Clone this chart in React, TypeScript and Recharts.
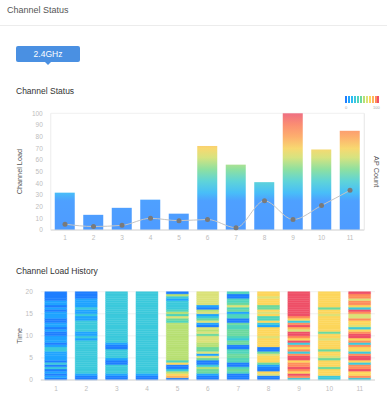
import React from 'react';
import { ComposedChart, BarChart, Bar, Line, XAxis, YAxis, CartesianGrid, Cell } from 'recharts';

const CHANNELS = ['1', '2', '3', '4', '5', '6', '7', '8', '9', '10', '11'];
const CHANNEL_LOAD = [32, 13, 19, 26, 14, 72, 56, 41, 100, 69, 85];
const AP_COUNT = [5, 3, 4, 10, 8, 9, 2, 25, 9, 21, 34];
const LOAD_TICKS = [0, 10, 20, 30, 40, 50, 60, 70, 80, 90, 100];
const LOAD_MAX = 100;
const TIME_TICKS = [0, 5, 10, 15, 20];
const TIME_MAX = 20;

// Channel load history samples, newest (time 20, top) first
const HISTORY_CH1 = [4, 4, 4, 4, 12, 12, 4, 12, 4, 12, 12, 12, 4, 4, 12, 12, 4, 12, 4, 4, 12, 12, 12, 4, 12, 29, 29, 12, 12, 12, 12, 4, 29, 4, 29, 4, 12, 4, 12, 4];
const HISTORY_CH2 = [4, 4, 4, 12, 12, 12, 12, 29, 12, 12, 29, 12, 12, 29, 29, 29, 29, 29, 12, 12, 29, 12, 29, 29, 29, 29, 29, 29, 29, 29, 29, 29, 29, 29, 29, 29, 29, 12, 4, 4];
const HISTORY_CH3 = [29, 29, 29, 29, 29, 29, 29, 29, 29, 29, 29, 29, 29, 29, 29, 29, 29, 29, 29, 29, 29, 29, 29, 12, 4, 4, 29, 29, 29, 29, 12, 4, 4, 29, 29, 29, 29, 12, 4, 4];
const HISTORY_CH4 = [29, 29, 29, 29, 29, 29, 29, 29, 29, 29, 29, 29, 29, 29, 29, 29, 29, 29, 29, 29, 29, 29, 29, 29, 29, 29, 29, 29, 29, 29, 29, 29, 29, 29, 29, 29, 29, 12, 4, 4];
const HISTORY_CH5 = [4, 54, 29, 12, 29, 29, 29, 29, 37, 54, 37, 62, 45, 37, 54, 54, 54, 54, 54, 54, 54, 54, 54, 54, 54, 54, 54, 54, 54, 54, 54, 37, 70, 4, 4, 29, 54, 70, 79, 4];
const HISTORY_CH6 = [62, 62, 62, 62, 62, 62, 12, 4, 54, 62, 12, 29, 45, 62, 12, 4, 62, 54, 62, 45, 62, 62, 62, 54, 54, 45, 45, 62, 12, 62, 45, 4, 4, 29, 54, 45, 45, 12, 4, 4];
const HISTORY_CH7 = [37, 4, 4, 37, 37, 45, 62, 37, 45, 12, 37, 37, 4, 4, 45, 37, 37, 45, 45, 45, 37, 29, 45, 45, 4, 4, 37, 37, 45, 45, 37, 37, 4, 4, 37, 45, 37, 4, 4, 4];
const HISTORY_CH8 = [70, 70, 62, 70, 70, 70, 45, 45, 70, 62, 70, 37, 37, 70, 29, 12, 70, 70, 70, 70, 62, 70, 70, 70, 70, 4, 4, 45, 62, 70, 70, 70, 45, 12, 4, 4, 70, 62, 4, 4];
const HISTORY_CH9 = [95, 95, 95, 95, 95, 95, 95, 95, 95, 95, 95, 87, 70, 29, 87, 95, 79, 62, 95, 95, 87, 70, 95, 29, 87, 70, 87, 29, 87, 95, 95, 70, 87, 87, 95, 87, 70, 95, 87, 29];
const HISTORY_CH10 = [70, 70, 70, 70, 70, 70, 70, 45, 70, 70, 62, 70, 70, 70, 70, 70, 70, 70, 45, 70, 70, 62, 70, 70, 70, 70, 45, 70, 70, 62, 45, 70, 70, 70, 45, 70, 70, 70, 29, 29];
const HISTORY_CH11 = [95, 87, 87, 62, 87, 87, 70, 29, 95, 87, 62, 62, 87, 70, 70, 62, 29, 70, 87, 95, 95, 70, 87, 29, 87, 70, 70, 29, 87, 95, 95, 70, 29, 87, 87, 95, 70, 70, 87, 29];

const PALETTE = ['#1f7fff', '#20a4ff', '#2bbcf5', '#3cc9dc', '#50d5bc', '#6cd99e', '#b8e074', '#dbe27a', '#fdd65c', '#ffb45c', '#ff8e5c', '#ef5068'];

const GRADIENT_STOPS = [
  { v: 0, c: '#4e9bff' },
  { v: 25, c: '#4ea0ff' },
  { v: 32, c: '#48bef8' },
  { v: 42, c: '#5fd4d8' },
  { v: 52, c: '#8ee0a0' },
  { v: 62, c: '#d6e380' },
  { v: 70, c: '#f8d870' },
  { v: 80, c: '#fdaf6e' },
  { v: 90, c: '#fb8f72' },
  { v: 100, c: '#ef6f82' },
];

const HISTORY = [
  HISTORY_CH1, HISTORY_CH2, HISTORY_CH3, HISTORY_CH4, HISTORY_CH5, HISTORY_CH6,
  HISTORY_CH7, HISTORY_CH8, HISTORY_CH9, HISTORY_CH10, HISTORY_CH11,
].map((h) => [...h].reverse());
const SAMPLES = HISTORY[0].length;
const STEP = TIME_MAX / SAMPLES;

const colorFor = (v: number) => PALETTE[Math.min(PALETTE.length - 1, Math.floor((v / LOAD_MAX) * PALETTE.length))];

const statusData = CHANNELS.map((ch, i) => ({ ch, load: CHANNEL_LOAD[i], ap: AP_COUNT[i] }));
const heatData = CHANNELS.map((ch) => {
  const row: any = { ch };
  for (let k = 0; k < SAMPLES; k++) row['t' + k] = STEP;
  return row;
});

const FONT = '"Liberation Sans", Arial, Helvetica, sans-serif';
const TICK = { fontSize: 6.5, fill: '#bdbdbd', fontFamily: FONT };

const GradientBar = (props: any) => {
  const { x, y, width, height, value, index } = props;
  const v = Array.isArray(value) ? value[1] - value[0] : value;
  if (!height || !v) return null;
  const bottom = y + height;
  const topMax = bottom - (height * LOAD_MAX) / v;
  const id = 'bar-grad-' + index;
  return (
    <g>
      <defs>
        <linearGradient id={id} gradientUnits="userSpaceOnUse" x1={0} y1={bottom} x2={0} y2={topMax}>
          {GRADIENT_STOPS.map((s) => (
            <stop key={s.v} offset={s.v / LOAD_MAX} stopColor={s.c} />
          ))}
        </linearGradient>
      </defs>
      <rect x={x} y={y} width={width} height={height} fill={`url(#${id})`} />
    </g>
  );
};

const AxisTitle = (props: any) => {
  const { viewBox, value, angle, dx } = props;
  if (!viewBox) return null;
  const cx = viewBox.x + dx;
  const cy = viewBox.y + viewBox.height / 2;
  return (
    <text
      x={cx}
      y={cy}
      transform={`rotate(${angle} ${cx} ${cy})`}
      textAnchor="middle"
      dominantBaseline="central"
      fontSize={7.3}
      fill="#555"
      fontFamily={FONT}
    >
      {value}
    </text>
  );
};

export default function App() {
  return (
    <div
      style={{
        position: 'absolute',
        left: 0,
        top: 0,
        width: 387,
        height: 398,
        background: '#fff',
        fontFamily: FONT,
        overflow: 'hidden',
      }}
    >
      <div style={{ position: 'absolute', left: 7, top: 4, fontSize: 9, lineHeight: '12px', color: '#555' }}>Channel Status</div>
      <div style={{ position: 'absolute', left: 0, top: 25, width: 387, height: 1, background: '#ececec' }} />
      <div
        style={{
          position: 'absolute',
          left: 16,
          top: 46,
          width: 64,
          height: 16,
          background: '#4a90e2',
          borderRadius: 2,
          color: '#fff',
          fontSize: 8.5,
          lineHeight: '16px',
          textAlign: 'center',
        }}
      >
        2.4GHz
      </div>
      <div
        style={{
          position: 'absolute',
          left: 45,
          top: 62,
          width: 0,
          height: 0,
          borderLeft: '3px solid transparent',
          borderRight: '3px solid transparent',
          borderTop: '3px solid #4a90e2',
        }}
      />
      <div style={{ position: 'absolute', left: 16, top: 85, fontSize: 8.5, lineHeight: '12px', color: '#333' }}>Channel Status</div>

      {PALETTE.map((c, i) => (
        <div key={c} style={{ position: 'absolute', left: 345 + i * 2.95, top: 96, width: 2, height: 7, background: c }} />
      ))}
      <div style={{ position: 'absolute', left: 345, top: 105, fontSize: 4, lineHeight: '5px', color: '#aaa' }}>0</div>
      <div style={{ position: 'absolute', left: 373, top: 105, fontSize: 4, lineHeight: '5px', color: '#aaa' }}>100</div>

      <div style={{ position: 'absolute', left: 0, top: 100 }}>
        <ComposedChart width={387} height={150} data={statusData} margin={{ top: 13.3, right: 0, bottom: 0, left: 0 }}>
          <CartesianGrid vertical={false} stroke="#f0f0f0" />
          <XAxis
            dataKey="ch"
            height={20}
            tick={TICK}
            tickLine={false}
            tickSize={3}
            tickMargin={2}
            axisLine={{ stroke: '#d6d6d6' }}
            interval={0}
          />
          <YAxis
            yAxisId="load"
            width={50.75}
            domain={[0, LOAD_MAX]}
            ticks={LOAD_TICKS}
            interval={0}
            tick={TICK}
            tickLine={false}
            axisLine={{ stroke: '#ececec' }}
            label={{ content: (p: any) => <AxisTitle {...p} value="Channel Load" angle={-90} dx={20} /> }}
          />
          <YAxis
            yAxisId="ap"
            orientation="right"
            width={22.75}
            domain={[0, LOAD_MAX]}
            tick={false}
            tickLine={false}
            axisLine={{ stroke: '#e6e6e6' }}
            label={{ content: (p: any) => <AxisTitle {...p} value="AP Count" angle={90} dx={12.5} /> }}
          />
          <Bar yAxisId="load" dataKey="load" barSize={20} shape={<GradientBar />} isAnimationActive={false} />
          <Line
            yAxisId="ap"
            dataKey="ap"
            type="monotone"
            stroke="#c4c4c4"
            strokeWidth={1}
            dot={{ r: 2.5, fill: '#7a7a7a', stroke: 'none' }}
            activeDot={false}
            isAnimationActive={false}
          />
        </ComposedChart>
      </div>

      <div style={{ position: 'absolute', left: 16, top: 265, fontSize: 8.5, lineHeight: '12px', color: '#333' }}>Channel Load History</div>

      <div style={{ position: 'absolute', left: 0, top: 280 }}>
        <BarChart width={387} height={118} data={heatData} margin={{ top: 11.7, right: 12, bottom: 0, left: 0 }}>
          <CartesianGrid vertical={false} stroke="#f0f0f0" />
          <XAxis
            dataKey="ch"
            height={18}
            tick={TICK}
            tickLine={false}
            tickSize={4}
            tickMargin={2}
            axisLine={{ stroke: '#d6d6d6' }}
            interval={0}
          />
          <YAxis
            width={40.8}
            domain={[0, TIME_MAX]}
            ticks={TIME_TICKS}
            interval={0}
            tick={TICK}
            tickLine={false}
            axisLine={false}
            label={{ content: (p: any) => <AxisTitle {...p} value="Time" angle={-90} dx={19.7} /> }}
          />
          {Array.from({ length: SAMPLES }, (_, k) => (
            <Bar key={k} dataKey={'t' + k} stackId="h" barSize={22} isAnimationActive={false}>
              {CHANNELS.map((ch, i) => (
                <Cell key={ch} fill={colorFor(HISTORY[i][k])} stroke={colorFor(HISTORY[i][k])} strokeWidth={0.4} />
              ))}
            </Bar>
          ))}
        </BarChart>
      </div>
    </div>
  );
}
